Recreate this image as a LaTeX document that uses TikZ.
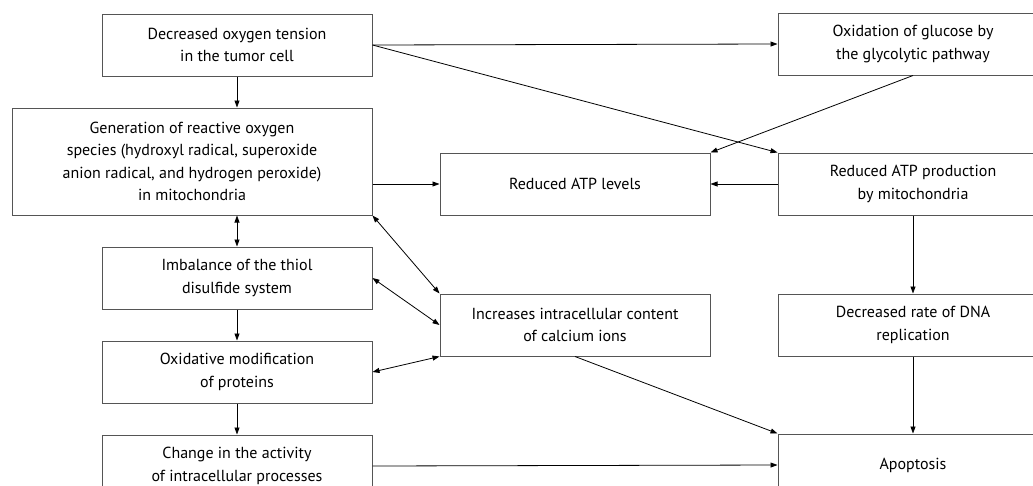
\documentclass[tikz,border=0pt]{standalone}
\usepackage{fontspec}
\setmainfont{PT Sans}
\usepackage{tikz}
\usetikzlibrary{arrows.meta,positioning,calc}
\definecolor{BoxGray}{HTML}{555555}

\tikzset{
  stepbox/.style={draw=BoxGray,line width=1pt,align=center,inner sep=2pt,
    minimum width=270pt,minimum height=62pt,
    font=\fontsize{16}{22.5}\selectfont},
  arr/.style={-{Triangle[length=7pt,width=5pt]},line width=0.8pt},
  dbl/.style={{Triangle[length=7pt,width=5pt]}-{Triangle[length=7pt,width=5pt]},line width=0.8pt}
}

\begin{document}
\begin{tikzpicture}[node distance=31pt and 67pt]
    \useasboundingbox (0,0) rectangle (1033pt,-485pt);
    \node[stepbox] (tension) at (237pt,-45pt) {Decreased oxygen tension\\in the tumor cell};
    \node[stepbox,minimum width=360pt,minimum height=107pt,
      below=31pt of tension.south east,anchor=north east] (ros)
      {Generation of reactive oxygen\\species (hydroxyl radical, superoxide\\anion radical, and hydrogen peroxide)\\in mitochondria};
    \node[stepbox,below=31pt of ros.south east,anchor=north east] (imbalance) {Imbalance of the thiol\\disulfide system};
    \node[stepbox,below=of imbalance] (oxidative) {Oxidative modification\\of proteins};
    \node[stepbox,below=of oxidative] (change) {Change in the activity\\of intracellular processes};
    \node[stepbox,right=67pt of ros.south east,anchor=south west] (atplevels) {Reduced ATP levels};
    \node[stepbox,below=78pt of atplevels] (calcium) {Increases intracellular content\\of calcium ions};
    \node[stepbox,right=of atplevels] (atpprod) {Reduced ATP production\\by mitochondria};
    \node[stepbox,above=77pt of atpprod] (glucose) {Oxidation of glucose by\\the glycolytic pathway};
    \node[stepbox,below=78pt of atpprod] (dna) {Decreased rate of DNA\\replication};
    \node[stepbox,below=77pt of dna] (apoptosis) {Apoptosis};

    \draw[arr] (tension.south) -- (tension.south |- ros.north);
    \draw[arr] (tension.east) -- (glucose.west);
    \draw[arr] (tension.east) -- (atpprod.north west);
    \draw[arr] (glucose.south) -- (atplevels.north east);
    \draw[arr] (atplevels.west -| ros.east) -- (atplevels.west);
    \draw[arr] (atpprod.west) -- (atplevels.east);
    \draw[arr] (atpprod) -- (dna);
    \draw[arr] (dna) -- (apoptosis);
    \draw[dbl] (imbalance.north |- ros.south) -- (imbalance.north);
    \draw[arr] (imbalance) -- (oxidative);
    \draw[arr] (oxidative) -- (change);
    \draw[dbl] (ros.south east) -- (calcium.north west);
    \draw[dbl] (imbalance.east) -- (calcium.west);
    \draw[dbl] (oxidative.east) -- (calcium.south west);
    \draw[arr] (calcium.south) -- (apoptosis.north west);
    \draw[arr] (change.east) -- (apoptosis.west);
  \end{tikzpicture}
\end{document}
